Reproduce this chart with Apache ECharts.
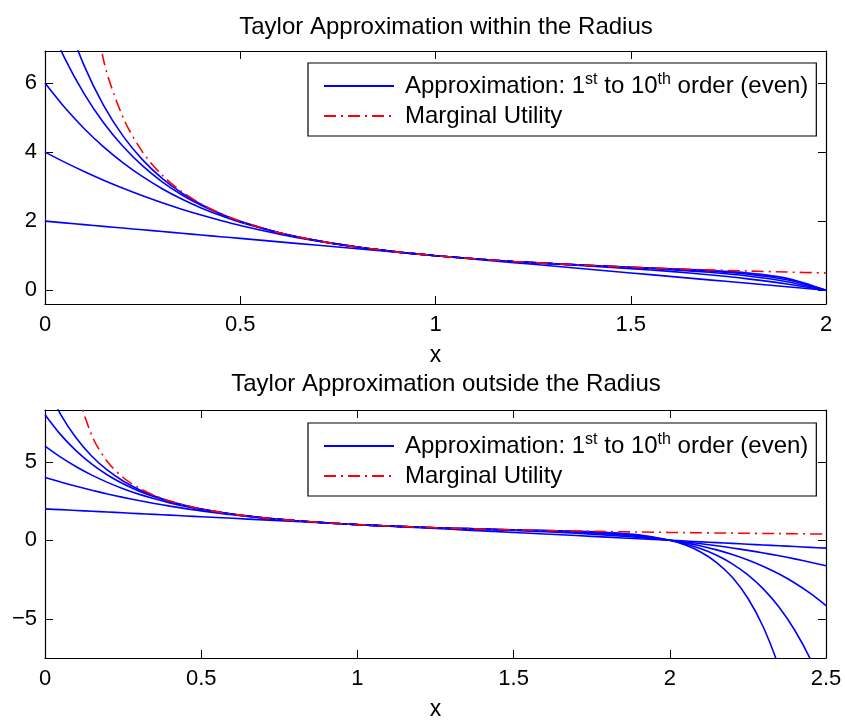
<!DOCTYPE html>
<html>
<head>
<meta charset="utf-8">
<script src="https://cdn.jsdelivr.net/npm/echarts@6/dist/echarts.min.js"></script>
<style>
  html, body { margin: 0; padding: 0; background: #fff; }
  #chart { width: 845px; height: 722px; }
</style>
</head>
<body>
<div id="chart"></div>
<script>
// sample points (x) and the Taylor partial sums
var xs = [0, 0.05, 0.1, 0.15, 0.2, 0.25, 0.3, 0.35, 0.4, 0.45, 0.5,
  0.6, 0.7, 0.8, 0.9, 1.0, 1.1, 1.2, 1.3, 1.4, 1.5, 1.6, 1.7, 1.8, 1.9,
  2.0, 2.05, 2.1, 2.15, 2.2, 2.25, 2.3, 2.35, 2.4, 2.45, 2.5];
var order1 = [2, 1.95, 1.9, 1.85, 1.8, 1.75, 1.7, 1.65, 1.6, 1.55, 1.5,
  1.4, 1.3, 1.2, 1.1, 1, 0.9, 0.8, 0.7, 0.6, 0.5, 0.4, 0.3, 0.2, 0.1,
  0, -0.05, -0.1, -0.15, -0.2, -0.25, -0.3, -0.35, -0.4, -0.45, -0.5];
var order3 = [4, 3.710, 3.439, 3.187, 2.952, 2.734, 2.533, 2.347, 2.176, 2.019, 1.875,
  1.624, 1.417, 1.248, 1.111, 1, 0.909, 0.832, 0.763, 0.696, 0.625, 0.544, 0.447, 0.328, 0.181,
  0, -0.105, -0.221, -0.348, -0.488, -0.641, -0.807, -0.988, -1.184, -1.396, -1.625];
var order5 = [6, 5.298, 4.686, 4.152, 3.689, 3.288, 2.941, 2.642, 2.383, 2.161, 1.969,
  1.660, 1.428, 1.250, 1.111, 1, 0.909, 0.833, 0.769, 0.711, 0.656, 0.596, 0.519, 0.410, 0.247,
  0, -0.166, -0.367, -0.611, -0.903, -1.251, -1.664, -2.150, -2.721, -3.385, -4.156];
var order7 = [8, 6.732, 5.695, 4.850, 4.161, 3.600, 3.141, 2.766, 2.458, 2.204, 1.992,
  1.666, 1.428, 1.250, 1.111, 1, 0.909, 0.833, 0.769, 0.714, 0.664, 0.615, 0.554, 0.462, 0.300,
  0, -0.233, -0.545, -0.958, -1.500, -2.205, -3.112, -4.269, -5.732, -7.568, -9.852];
var order9 = [10, 8.025, 6.513, 5.354, 4.463, 3.775, 3.239, 2.819, 2.485, 2.217, 1.998,
  1.667, 1.429, 1.250, 1.111, 1, 0.909, 0.833, 0.769, 0.714, 0.666, 0.621, 0.572, 0.496, 0.343,
  0, -0.307, -0.759, -1.417, -2.360, -3.695, -5.559, -8.131, -11.636, -16.361, -22.666];
// marginal utility 1/x (undefined at 0)
var utility = [null, 20, 10, 6.667, 5, 4, 3.333, 2.857, 2.5, 2.222, 2,
  1.667, 1.429, 1.25, 1.111, 1, 0.909, 0.833, 0.769, 0.714, 0.667, 0.625, 0.588, 0.556, 0.526,
  0.5, 0.488, 0.476, 0.465, 0.455, 0.444, 0.435, 0.426, 0.417, 0.408, 0.4];

var titles = ['Taylor Approximation within the Radius', 'Taylor Approximation outside the Radius'];
var xMaxes = [2, 2.5];
var xTicks = [0.5, 0.5];
var yRanges = [[-0.4, 6.93], [-7.5, 8.3]];
var ySplits = [4, 3];

var approxName = 'Approximation';
var utilName = 'Marginal Utility';
var font = "'Liberation Sans', Arial, Helvetica, sans-serif";

var chart = echarts.init(document.getElementById('chart'));

function pairs(ys, xmax) {
	var out = [];
	for (var i = 0; i < xs.length; i++) {
		if (xs[i] > xmax + 1e-9) break;
		if (ys[i] === null) continue;
		out.push([xs[i], ys[i]]);
	}
	return out;
}

function fmtNum(v) {
	return String(v).replace('-', '\u2212');
}

var grids = [
	{ left: 45, top: 51, width: 781, height: 253 },
	{ left: 45, top: 410, width: 781, height: 252 }
];

var xAxes = [], yAxes = [], series = [], legends = [], titleOpts = [];
var axLine = { show: true, onZero: false, lineStyle: { color: '#000', width: 1.2 } };
var tickIn = { show: true, inside: true, length: 8, lineStyle: { color: '#000', width: 1 } };

for (var g = 0; g < 2; g++) {
	titleOpts.push({
		text: titles[g],
		left: 441, top: g === 0 ? 10 : 367,
		textAlign: 'center',
		textStyle: { fontFamily: font, fontSize: 24, fontWeight: 'normal', color: '#000' }
	});
	// bottom x axis + top mirror
	xAxes.push({
		type: 'value', gridIndex: g, position: 'bottom',
		min: 0, max: xMaxes[g], interval: xTicks[g],
		name: 'x', nameLocation: 'middle', nameGap: 40,
		nameTextStyle: { fontFamily: font, fontSize: 23, color: '#000' },
		axisLine: axLine, axisTick: tickIn, splitLine: { show: false },
		axisLabel: { fontFamily: font, fontSize: 22, color: '#000', margin: 10, formatter: fmtNum }
	});
	xAxes.push({
		type: 'value', gridIndex: g, position: 'top',
		min: 0, max: xMaxes[g], interval: xTicks[g],
		axisLine: axLine, axisTick: tickIn, splitLine: { show: false },
		axisLabel: { show: false }
	});
	// left y axis + right mirror
	yAxes.push({
		type: 'value', gridIndex: g, position: 'left',
		min: yRanges[g][0], max: yRanges[g][1], splitNumber: ySplits[g],
		axisLine: axLine, axisTick: tickIn, splitLine: { show: false },
		axisLabel: { fontFamily: font, fontSize: 22, color: '#000', margin: 8,
			showMinLabel: false, showMaxLabel: false, formatter: fmtNum }
	});
	yAxes.push({
		type: 'value', gridIndex: g, position: 'right',
		min: yRanges[g][0], max: yRanges[g][1], splitNumber: ySplits[g],
		axisLine: axLine, axisTick: tickIn, splitLine: { show: false },
		axisLabel: { show: false }
	});

	var orders = [order1, order3, order5, order7, order9];
	for (var k = 0; k < orders.length; k++) {
		series.push({
			name: approxName, type: 'line',
			xAxisIndex: g * 2, yAxisIndex: g * 2,
			data: pairs(orders[k], xMaxes[g]),
			symbol: 'none', smooth: 0.3, clip: true,
			lineStyle: { color: '#0000ff', width: 1.6 },
			itemStyle: { color: '#0000ff' },
			emphasis: { disabled: true }, silent: true, animation: false
		});
	}
	series.push({
		name: utilName, type: 'line',
		xAxisIndex: g * 2, yAxisIndex: g * 2,
		data: pairs(utility, xMaxes[g]),
		symbol: 'none', smooth: 0.3, clip: true,
		lineStyle: { color: '#ff0000', width: 1.6, type: [12, 5, 2, 5] },
		itemStyle: { color: '#ff0000' },
		emphasis: { disabled: true }, silent: true, animation: false
	});

	legends.push({
		orient: 'vertical',
		left: 308, top: g === 0 ? 63 : 423,
		data: [approxName, utilName],
		backgroundColor: '#fff',
		borderColor: '#000', borderWidth: 1.2,
		padding: [9, 8, 8, 15],
		itemWidth: 70, itemHeight: 14, itemGap: 6,
		itemStyle: { opacity: 0 },
		selectedMode: false,
		formatter: function (name) {
			if (name === approxName) {
				return '{n|Approximation: 1}{s|st}{n| to 10}{s|th}{n| order (even)}';
			}
			return '{n|Marginal Utility}';
		},
		textStyle: {
			fontFamily: font, fontSize: 24, color: '#000', padding: [0, 0, 0, 6],
			rich: {
				n: { fontFamily: font, fontSize: 24, color: '#000', lineHeight: 28 },
				s: { fontFamily: font, fontSize: 16, color: '#000', lineHeight: 14, verticalAlign: 'top' }
			}
		}
	});
}

chart.setOption({
	backgroundColor: '#fff',
	animation: false,
	title: titleOpts,
	grid: grids,
	xAxis: xAxes,
	yAxis: yAxes,
	legend: legends,
	series: series
});
</script>
</body>
</html>
